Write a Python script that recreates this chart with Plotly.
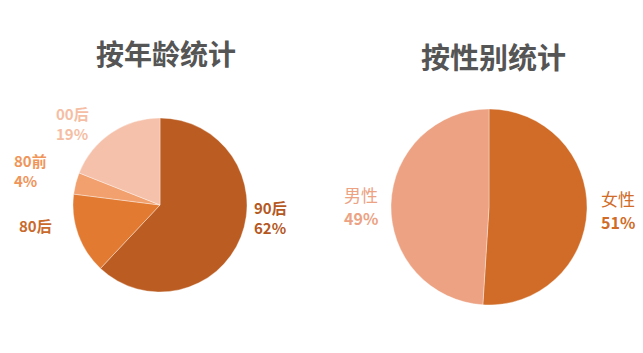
import plotly.graph_objects as go

# Age distribution
age_groups = ["90后", "80后", "80前", "00后"]
age_share = [62, 15, 4, 19]
age_colors = ["#bb5d22", "#e27a32", "#f1a06e", "#f5c1aa"]
age_label_colors = ["#b5581f", "#c96a2c", "#f0955a", "#f5bea4"]
age_show_pct = [True, False, True, True]

# Gender distribution
genders = ["女性", "男性"]
gender_share = [51, 49]
gender_colors = ["#d06c28", "#eca283"]

FONT = "Noto Sans CJK SC, Microsoft YaHei, sans-serif"
W, H = 643, 353

fig = go.Figure()

fig.add_trace(go.Pie(
    labels=age_groups, values=age_share, sort=False, direction="clockwise",
    rotation=0, textinfo="none", hoverinfo="label+percent",
    marker=dict(colors=age_colors, line=dict(color="rgba(255,255,255,0.6)", width=0.6)),
    domain=dict(x=[73 / W, 247 / W], y=[(H - 292) / H, (H - 118) / H]),
    showlegend=False,
))

fig.add_trace(go.Pie(
    labels=genders, values=gender_share, sort=False, direction="clockwise",
    rotation=0, textinfo="none", hoverinfo="label+percent",
    marker=dict(colors=gender_colors, line=dict(color="rgba(255,255,255,0.6)", width=0.6)),
    domain=dict(x=[391 / W, 587 / W], y=[(H - 306) / H, (H - 108) / H]),
    showlegend=False,
))

annotations = []


def add_text(txt, px, py, size, color, anchor="left", bold=True):
    annotations.append(dict(
        text=f"<b>{txt}</b>" if bold else txt, x=px / W, y=1 - py / H,
        xref="paper", yref="paper", xanchor=anchor, yanchor="middle",
        align="left", showarrow=False,
        font=dict(family=FONT, size=size, color=color)))


# Titles
add_text("按年龄统计", 166, 53, 28, "#555555", anchor="center")
add_text("按性别统计", 493, 56, 29, "#555555", anchor="center")

# Age slice labels: (left x, centre y)
age_label_pos = [(252, 217), (17, 225), (12, 170), (54, 123)]
for name, val, col, show, (px, py) in zip(age_groups, age_share, age_label_colors,
                                           age_show_pct, age_label_pos):
    txt = f"{name}<br>{val}%" if show else name
    add_text(txt, px, py, 15, col)

# Gender slice labels: (left x, first line y, second line y)
gender_label_pos = [(599, 198, 222), (342, 194, 218)]
for name, val, col, (px, y1, y2) in zip(genders, gender_share, gender_colors, gender_label_pos):
    add_text(name, px, y1, 17, col, bold=False)
    add_text(f"{val}%", px, y2, 16, col)

fig.update_layout(
    width=W, height=H, margin=dict(l=0, r=0, t=0, b=0),
    paper_bgcolor="white", plot_bgcolor="white",
    annotations=annotations,
)

fig.write_html("out.html")
